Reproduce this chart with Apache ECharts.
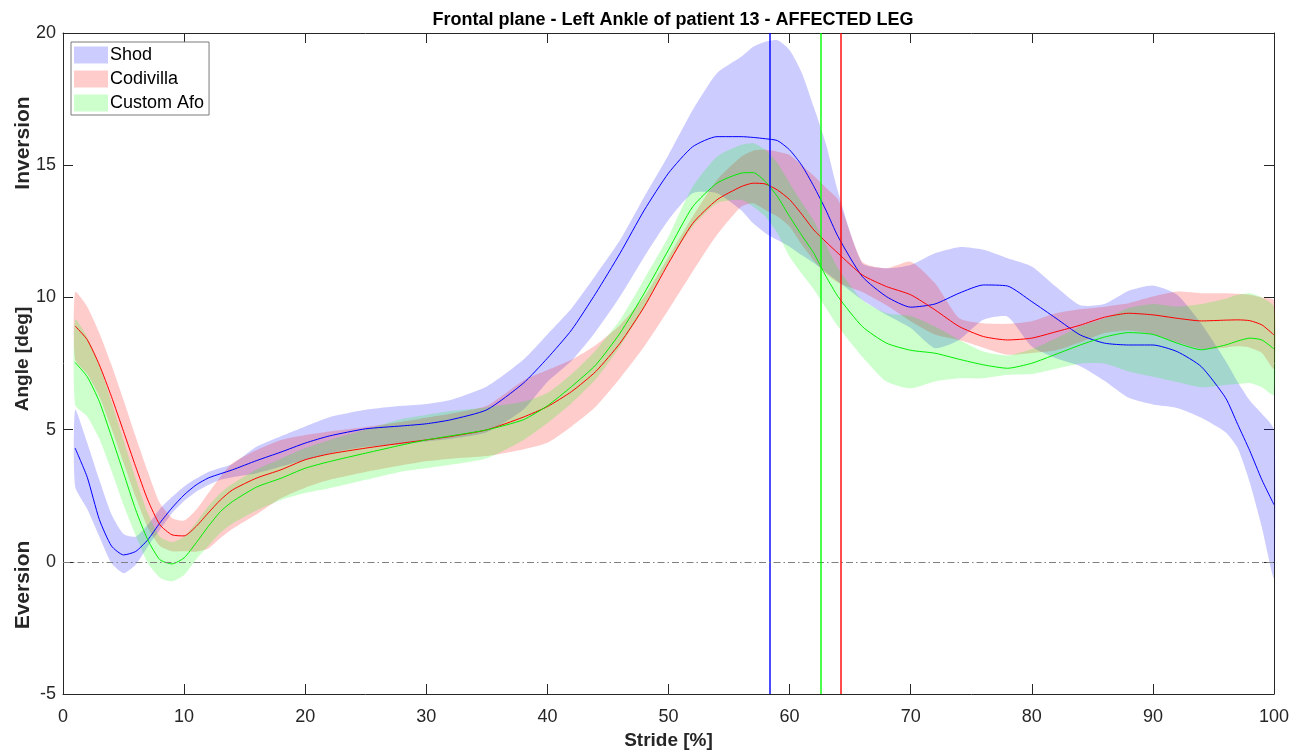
<!DOCTYPE html>
<html>
<head>
<meta charset="utf-8">
<title>Frontal plane - Left Ankle of patient 13</title>
<script src="https://cdn.jsdelivr.net/npm/echarts@6/dist/echarts.min.js"></script>
<style>
  html, body { margin: 0; padding: 0; background: #fff; }
  #chart { width: 1304px; height: 755px; }
</style>
</head>
<body>
<div id="chart"></div>
<script>
  // stride points (% of gait cycle)
  const stride = [1,2,3,4,5,6,7,8,9,10,11,12,13,14,16,18,20,22,25,28,30,32,35,38,40,42,44,46,48,50,52,54,56,57,58,59,60,61,62,63,64,66,68,70,72,74,76,78,80,82,84,86,88,90,92,94,96,97,98,99,100]

  // Shod
  const shodMean = [4.3,3.2,1.6,0.6,0.26,0.39,0.83,1.47,2.04,2.53,2.91,3.17,3.33,3.48,3.83,4.15,4.49,4.76,5.03,5.14,5.22,5.37,5.75,6.75,7.7,8.77,10.16,11.67,13.3,14.7,15.7,16.08,16.08,16.05,16.0,15.93,15.58,15.0,14.2,13.3,12.3,10.79,10.03,9.63,9.75,10.16,10.47,10.43,9.84,9.21,8.58,8.27,8.2,8.2,7.95,7.38,6.2,5.2,4.2,3.1,2.16]
  const shodHigh = [5.75,4.5,3.1,1.8,1.05,0.95,1.4,2.0,2.45,2.85,3.15,3.4,3.55,3.7,4.36,4.75,5.12,5.47,5.75,5.9,5.97,6.12,6.63,7.64,8.6,9.59,10.85,12.17,13.81,15.39,17.09,18.48,19.1,19.48,19.67,19.73,19.36,18.5,17.2,15.8,14.0,11.29,11.1,11.23,11.67,11.9,11.8,11.48,11.17,10.4,9.7,9.75,10.25,10.45,10.1,9.0,7.6,6.8,6.1,5.6,5.0]
  const shodLow = [2.85,2.0,0.96,-0.05,-0.43,-0.11,0.58,1.21,1.84,2.3,2.65,2.9,3.1,3.2,3.35,3.6,3.85,4.1,4.35,4.45,4.55,4.65,4.9,5.75,6.8,7.6,8.71,10.03,11.54,12.93,13.94,13.94,13.3,12.8,12.43,12.17,11.92,11.6,11.3,10.95,10.6,9.9,9.34,8.84,8.08,8.39,9.15,9.27,8.14,7.7,7.4,6.85,6.2,5.95,5.82,5.45,4.9,4.3,3.0,1.3,-0.6]

  // Codivilla
  const codMean = [8.92,8.4,7.45,6.25,4.93,3.6,2.34,1.4,1.02,0.98,1.34,1.85,2.34,2.72,3.17,3.48,3.86,4.08,4.3,4.49,4.61,4.74,4.99,5.47,5.87,6.44,7.2,8.27,9.65,11.29,12.8,13.69,14.19,14.32,14.29,14.06,13.7,13.15,12.55,12.1,11.67,10.85,10.41,10.1,9.53,8.9,8.52,8.39,8.46,8.7,8.95,9.25,9.4,9.34,9.21,9.11,9.14,9.15,9.12,8.96,8.58]
  const codHigh = [10.2,9.65,8.65,7.45,6.12,4.74,3.42,2.22,1.66,1.56,1.97,2.6,3.22,3.74,4.23,4.61,4.8,4.93,5.1,5.3,5.45,5.6,5.9,6.85,7.25,7.64,8.2,8.96,10.03,11.54,13.06,14.44,15.32,15.55,15.58,15.51,15.39,15.0,14.6,14.15,13.7,11.35,11.1,11.35,10.54,9.21,9.02,9.0,9.1,9.4,9.55,9.65,9.78,10.03,10.22,10.16,10.16,10.14,10.1,10.0,9.9]
  const codLow = [7.65,7.1,6.25,5.05,3.75,2.45,1.3,0.6,0.4,0.4,0.38,0.5,0.9,1.25,1.8,2.4,2.8,3.1,3.4,3.65,3.8,3.9,4.0,4.25,4.5,5.12,5.87,6.94,8.14,9.53,10.98,12.36,13.43,13.56,13.31,13.06,12.68,12.0,11.4,10.9,10.55,10.2,9.7,9.1,8.6,8.39,8.1,7.83,7.9,8.0,8.3,8.65,8.75,8.6,8.3,8.05,8.1,8.15,8.1,7.9,7.3]

  // Custom Afo
  const afoMean = [7.54,7.0,6.06,4.74,3.36,1.97,0.83,0.08,-0.08,0.15,0.72,1.34,1.9,2.28,2.83,3.16,3.54,3.79,4.11,4.42,4.61,4.76,4.99,5.37,5.9,6.63,7.45,8.65,10.16,11.8,13.43,14.32,14.7,14.72,14.38,13.81,13.06,12.35,11.67,10.8,10.03,8.9,8.27,8.0,7.89,7.66,7.45,7.32,7.51,7.85,8.2,8.5,8.67,8.6,8.27,8.02,8.2,8.35,8.46,8.39,8.05]
  const afoHigh = [9.15,8.5,7.45,6.05,4.6,3.15,1.85,0.95,0.75,0.95,1.5,2.1,2.6,2.95,3.5,3.9,4.3,4.6,5.0,5.4,5.55,5.7,5.85,6.05,6.38,7.1,8.0,9.15,10.7,12.3,14.19,15.32,15.77,15.83,15.58,15.07,14.32,13.6,12.9,12.0,11.1,9.9,9.4,9.3,8.9,8.4,7.95,7.8,8.05,8.45,8.9,9.2,9.6,9.75,9.65,9.75,9.95,10.1,10.16,10.0,9.65]
  const afoLow = [5.93,5.5,4.65,3.45,2.15,1.0,-0.05,-0.6,-0.74,-0.5,0.1,0.6,1.1,1.45,1.95,2.34,2.6,2.78,3.1,3.42,3.54,3.67,3.92,4.6,5.25,6.0,6.9,8.14,9.6,11.29,12.68,13.56,13.69,13.43,13.06,12.43,11.54,10.9,10.3,9.6,8.9,7.76,6.82,6.56,6.82,6.94,6.94,7.07,7.1,7.3,7.5,7.5,7.2,7.0,6.8,6.6,6.69,6.72,6.76,6.6,6.31]

  // toe off (vertical lines)
  const toeOffNames = ['Shod', 'Codivilla', 'Custom Afo']
  const toeOffValues = [58.4, 64.2, 62.6]

  const xTicks = [0, 100, 10]
  const yTicks = [-5, 20, 5]

  const bandColor = {
    'Shod': 'rgba(0,0,255,0.2)',
    'Codivilla': 'rgba(255,0,0,0.2)',
    'Custom Afo': 'rgba(0,255,0,0.2)'
  }
  const lineColor = {
    'Shod': '#0000ff',
    'Codivilla': '#ff0000',
    'Custom Afo': '#00ee00'
  }
  const vlineColor = {
    'Shod': 'rgba(0,0,255,0.7)',
    'Codivilla': 'rgba(255,0,0,0.7)',
    'Custom Afo': 'rgba(0,255,0,0.7)'
  }
  const font = 'Arial, "Liberation Sans", Helvetica, sans-serif'

  const pairs = (arr) => stride.map((s, i) => [s, arr[i]])

  // band = polygon between low and high, placed through the chart's axes
  function bandSeries(name, low, high){
    return {
      name: name,
      type: 'custom',
      silent: true,
      z: 1,
      itemStyle: { color: bandColor[name] },
      encode: { x: 0, y: [1, 2] },
      data: stride.map((s, i) => [s, low[i], high[i]]),
      renderItem: function(params, api){
        if (params.dataIndex !== 0) return null
        let pts = []
        for (let i = 0; i < stride.length; i++) pts.push(api.coord([stride[i], high[i]]))
        for (let i = stride.length - 1; i >= 0; i--) pts.push(api.coord([stride[i], low[i]]))
        return {
          type: 'polygon',
          shape: { points: pts, smooth: 0.2 },
          style: { fill: bandColor[name] }
        }
      }
    }
  }

  function meanSeries(name, mean, idx){
    return {
      name: name + '_mean',
      type: 'line',
      symbol: 'none',
      smooth: 0.2,
      silent: true,
      lineStyle: { color: lineColor[name], width: 1 },
      z: 3,
      data: pairs(mean),
      markLine: {
        silent: true,
        symbol: 'none',
        label: { show: false },
        lineStyle: { color: vlineColor[name], width: 2, type: 'solid' },
        data: [{ xAxis: toeOffValues[idx] }]
      }
    }
  }

  let series = [
    bandSeries('Shod', shodLow, shodHigh),
    bandSeries('Codivilla', codLow, codHigh),
    bandSeries('Custom Afo', afoLow, afoHigh),
    meanSeries('Shod', shodMean, 0),
    meanSeries('Codivilla', codMean, 1),
    meanSeries('Custom Afo', afoMean, 2)
  ]
  // zero reference line
  series[3].markLine.data.push({
    yAxis: 0,
    lineStyle: { color: '#808080', width: 1, type: [7, 3, 1.5, 3] }
  })

  const axisColor = '#262626'
  const baseX = {
    type: 'value',
    min: xTicks[0], max: xTicks[1], interval: xTicks[2],
    splitLine: { show: false },
    axisLine: { onZero: false, lineStyle: { color: axisColor, width: 1 } },
    axisTick: { inside: true, length: 10, lineStyle: { color: axisColor } }
  }
  const baseY = {
    type: 'value',
    min: yTicks[0], max: yTicks[1], interval: yTicks[2],
    splitLine: { show: false },
    axisLine: { onZero: false, lineStyle: { color: axisColor, width: 1 } },
    axisTick: { inside: true, length: 10, lineStyle: { color: axisColor } }
  }

  let myChart = echarts.init(document.getElementById('chart'))
  let option = {
    animation: false,
    backgroundColor: '#fff',
    title: {
      text: 'Frontal plane - Left Ankle of patient 13 - AFFECTED LEG',
      left: 668,
      textAlign: 'center',
      top: 6,
      textStyle: { fontFamily: font, fontSize: 18, fontWeight: 'bold', color: '#000' }
    },
    legend: {
      left: 71,
      top: 42,
      orient: 'vertical',
      backgroundColor: '#fff',
      borderColor: '#7a7a7a',
      borderWidth: 1,
      borderRadius: 0,
      padding: [4, 5, 3, 3],
      itemGap: 6,
      itemWidth: 34,
      itemHeight: 17,
      icon: 'rect',
      textStyle: { fontFamily: font, fontSize: 18, color: '#000', padding: [0, 0, 0, -3] },
      data: toeOffNames.map(n => ({ name: n, icon: 'rect', itemStyle: { color: bandColor[n], borderWidth: 0 } }))
    },
    grid: { left: 63, right: 30, top: 33, bottom: 61, containLabel: false, outerBoundsMode: 'none' },
    xAxis: [
      Object.assign({}, baseX, {
        position: 'bottom',
        name: 'Stride [%]',
        nameLocation: 'middle',
        nameGap: 37,
        nameTextStyle: { fontFamily: font, fontSize: 19, fontWeight: 'bold', color: '#262626' },
        axisLabel: { fontFamily: font, fontSize: 18, color: '#262626', margin: 14 }
      }),
      Object.assign({}, baseX, { position: 'top', axisLabel: { show: false } })
    ],
    yAxis: [
      Object.assign({}, baseY, {
        position: 'left',
        axisLabel: { fontFamily: font, fontSize: 18, color: '#262626', margin: 7 }
      }),
      Object.assign({}, baseY, { position: 'right', axisLabel: { show: false } })
    ],
    graphic: [
      { type: 'text', x: 23, y: 143, rotation: Math.PI / 2, style: { text: 'Inversion', font: 'bold 21px ' + font, fill: '#262626', textAlign: 'center', textVerticalAlign: 'middle' } },
      { type: 'text', x: 23, y: 359, rotation: Math.PI / 2, style: { text: 'Angle [deg]', font: 'bold 19px ' + font, fill: '#262626', textAlign: 'center', textVerticalAlign: 'middle' } },
      { type: 'text', x: 23, y: 585, rotation: Math.PI / 2, style: { text: 'Eversion', font: 'bold 21px ' + font, fill: '#262626', textAlign: 'center', textVerticalAlign: 'middle' } }
    ],
    series: series
  }
  myChart.setOption(option)
</script>
</body>
</html>
